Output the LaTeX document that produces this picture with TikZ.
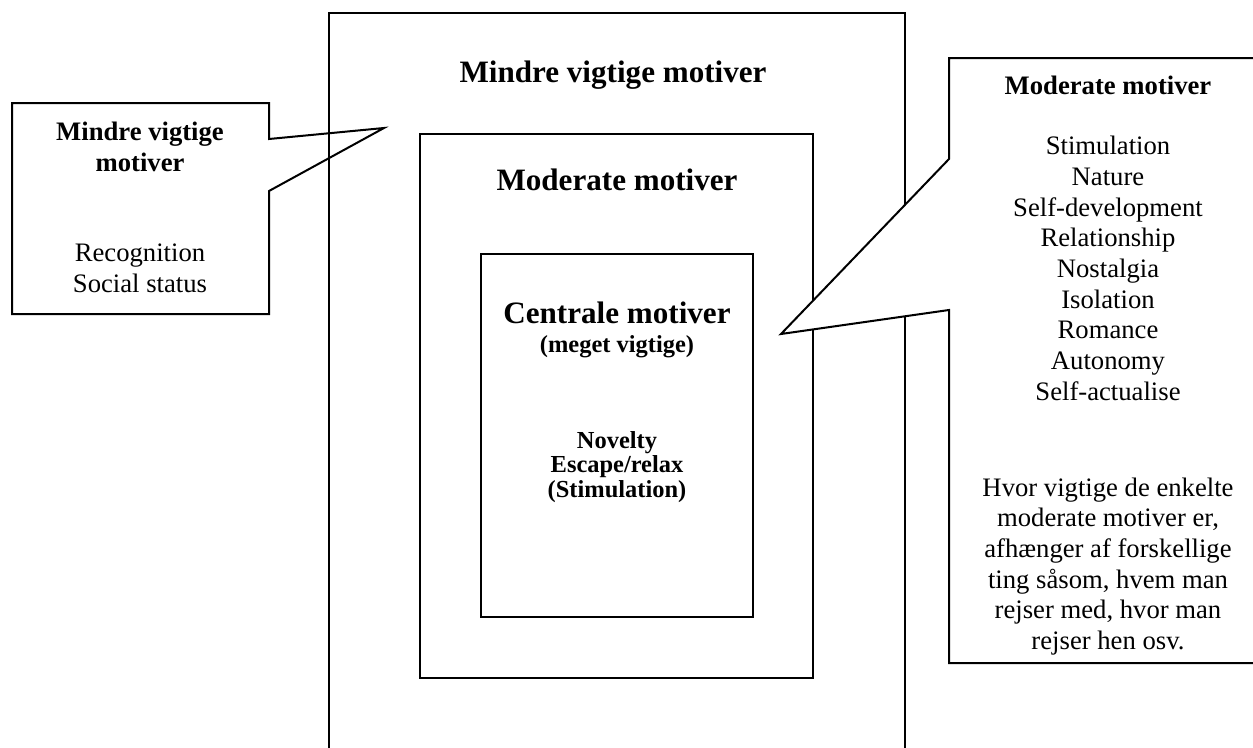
\documentclass[tikz,border=0pt]{standalone}
\usepackage{fontspec}
\setmainfont{Liberation Serif}
\usepackage{tikz}

\begin{document}
\begin{tikzpicture}[x=0.45pt,y=-0.45pt,
  frame/.style={line width=0.9pt},
  plaintext/.style={align=center,inner sep=0pt,font=\fontsize{12}{13.8}\selectfont},
  boldtext/.style={align=center,inner sep=0pt,font=\fontsize{12}{13.8}\selectfont\bfseries},
  smallbold/.style={align=center,inner sep=0pt,font=\fontsize{11}{11}\selectfont\bfseries},
  titletext/.style={align=center,inner sep=0pt,font=\fontsize{14}{16.1}\selectfont\bfseries}]
\useasboundingbox (0,0) rectangle (1253,748);
\clip (0,0) rectangle (1253,748);

% the three nested frames
\draw[frame] (329,760) -- (329,13) -- (905,13) -- (905,760);
\draw[frame] (420,134) rectangle (813,678);
\draw[frame] (481,254) rectangle (753,617);

% left callout
\draw[frame] (12,103) -- (269,103) -- (269,139) -- (384,128) -- (269,191) -- (269,314) -- (12,314) -- cycle;
% right callout
\draw[frame,fill=white] (1265,58) -- (949,58) -- (949,159) -- (781,334) -- (949,310) -- (949,663) -- (1265,663) -- cycle;

\node[titletext] (outertitle) at (613,75) {Mindre vigtige motiver};
\node[titletext] (midtitle) at (617,180) {Moderate motiver};
\node[titletext] (centraltitle) at (617,313) {Centrale motiver};
\node[smallbold] (centralsub) at (617,347) {(meget vigtige)};
\node[smallbold] (centrallist) at (617,467) {Novelty\\Escape/relax\\(Stimulation)};

\node[boldtext] (lefttitle) at (140,147) {Mindre vigtige\\motiver};
\node[plaintext] (leftlist) at (140,268) {Recognition\\Social status};

\node[boldtext] (righttitle) at (1108,85) {Moderate motiver};
\node[plaintext] (rightlist) at (1108,268.5) {Stimulation\\Nature\\Self-development\\Relationship\\Nostalgia\\Isolation\\Romance\\Autonomy\\Self-actualise};
\node[plaintext] (rightnote) at (1108,566.5) {Hvor vigtige de enkelte\\moderate motiver er,\\afhænger af forskellige\\ting såsom, hvem man\\rejser med, hvor man\\rejser hen osv.};
\end{tikzpicture}
\end{document}
